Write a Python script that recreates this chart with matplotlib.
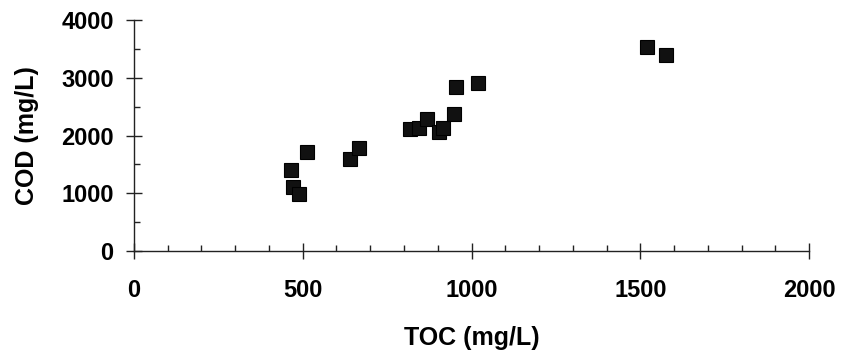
import matplotlib.pyplot as plt
from matplotlib.ticker import MultipleLocator

# dados
toc = [464, 470, 488, 513, 640, 666, 818, 843, 867, 903, 917, 949, 953, 1018, 1519, 1576]
cod = [1403, 1103, 987, 1714, 1598, 1789, 2113, 2124, 2280, 2055, 2124, 2367, 2846, 2915, 3538, 3394]

plt.rcParams['font.family'] = ['Liberation Sans', 'DejaVu Sans']

fig = plt.figure(figsize=(8.42, 3.58), dpi=100)
ax = fig.add_axes([0.159, 0.299, 0.802, 0.645])

ax.plot(toc, cod, linestyle='none', marker='s', markersize=10,
        markerfacecolor='#111111', markeredgecolor='black', markeredgewidth=0.8)

ax.set_xlim(0, 2000)
ax.set_ylim(0, 4000)
ax.xaxis.set_major_locator(MultipleLocator(500))
ax.xaxis.set_minor_locator(MultipleLocator(100))
ax.yaxis.set_major_locator(MultipleLocator(1000))
ax.yaxis.set_minor_locator(MultipleLocator(500))

for s in ['top', 'right']:
    ax.spines[s].set_visible(False)
for s in ['left', 'bottom']:
    ax.spines[s].set_linewidth(1.0)
    ax.spines[s].set_color('#222222')

ax.tick_params(which='major', direction='inout', length=11, width=1.0, color='#222222',
               labelsize=17)
ax.tick_params(axis='x', which='major', pad=15)
ax.tick_params(axis='y', which='major', pad=9)
ax.tick_params(which='minor', direction='in', length=4, width=1.0, color='#222222')
for lbl in ax.get_xticklabels() + ax.get_yticklabels():
    lbl.set_fontweight('bold')

ax.set_xlabel('TOC (mg/L)', fontsize=18, fontweight='bold', labelpad=17)
ax.set_ylabel('COD (mg/L)', fontsize=18, fontweight='bold', labelpad=16)

fig.savefig('out.png', dpi=100)
